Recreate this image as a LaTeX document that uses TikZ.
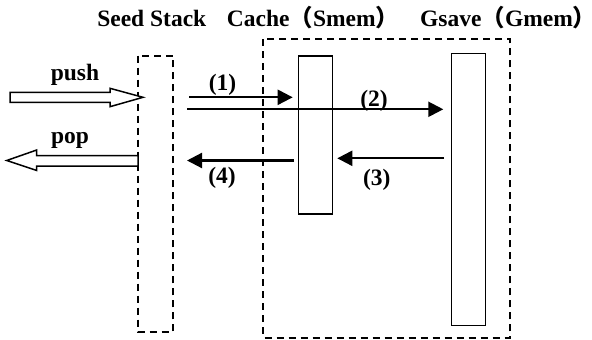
\documentclass[tikz,border=0pt]{standalone}
\usepackage{fontspec}
\setmainfont{Liberation Serif}
\newfontfamily\cjk{Noto Sans CJK SC}
\usetikzlibrary{arrows.meta}
\tikzset{
  lbl/.style={font=\fontsize{23.5}{28}\selectfont\bfseries, inner sep=0pt},
  dbox/.style={draw, line width=1.8pt, dash pattern=on 7pt off 5pt},
  sbox/.style={draw, line width=1.5pt},
  flow/.style={line width=2.2pt, -{Triangle[length=15pt,width=15pt]}},
  hollow/.style={draw, line width=1.5pt, fill=white, line join=miter}
}
\newcommand{\fwl}{{\cjk （}}
\newcommand{\fwr}{\makebox[0.45em][l]{\cjk ）}}
\begin{document}
\begin{tikzpicture}[x=1pt,y=-1pt]
\useasboundingbox (0,0) rectangle (592,340);
% boxes
\path[dbox] (138.3,55.7) rectangle (172.8,332.3);
\path[dbox] (263.3,39.3) rectangle (510,338);
\node[sbox, minimum width=34.4pt, minimum height=158pt, inner sep=0pt] (cache) at (315.5,135) {};
\node[sbox, minimum width=34pt, minimum height=272.4pt, inner sep=0pt] (gsave) at (468.5,189.5) {};
\coordinate (seed) at (155.5,194);
% titles
\node[lbl, anchor=base] (tseed) at (151.8,26) {Seed Stack};
\node[lbl, anchor=base west] (tcache) at (226.7,26) {Cache\fwl Smem\fwr};
\node[lbl, anchor=base west] (tgsave) at (420,26) {Gsave\fwl Gmem\fwr};
% push / pop hollow arrows
\path[hollow] (10,92.3) -- (110,92.3) -- (110,88.3) -- (143,97.3) -- (110,106.7) -- (110,102.3) -- (10,102.3) -- cycle;
\path[hollow] (138,155.7) -- (36.7,155.7) -- (36.7,150) -- (6.7,160.5) -- (36.7,170.5) -- (36.7,166) -- (138,166) -- cycle;
\node[lbl] (push) at (75,75) {push};
\node[lbl] (pop) at (70,140) {pop};
% flow arrows
\coordinate (a1s) at (189,97.3);
\coordinate (a1e) at (292.7,97.3);
\coordinate (a2s) at (187,109.3);
\coordinate (a2e) at (443.3,109.3);
\coordinate (a3s) at (444,158.3);
\coordinate (a3e) at (337.3,158.3);
\coordinate (a4s) at (294,160.5);
\coordinate (a4e) at (187,160.5);
\draw[flow] (a1s) -- (a1e);
\draw[flow] (a2s) -- (a2e);
\draw[flow] (a3s) -- (a3e);
\draw[flow] (a4s) -- (a4e);
\node[lbl] (l1) at (222.5,85) {(1)};
\node[lbl] (l2) at (374,101) {(2)};
\node[lbl] (l3) at (376.7,180) {(3)};
\node[lbl] (l4) at (222,178) {(4)};
\end{tikzpicture}
\end{document}
